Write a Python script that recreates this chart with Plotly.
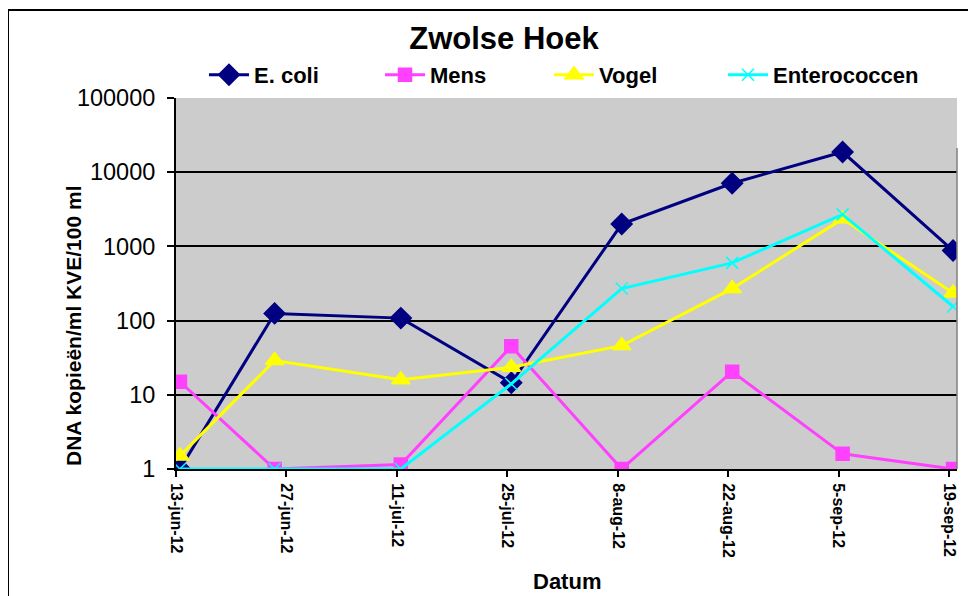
import plotly.graph_objects as go
import pandas as pd

# ---- data ----
dates = ["2012-06-13", "2012-06-25", "2012-07-11", "2012-07-25",
         "2012-08-08", "2012-08-22", "2012-09-05", "2012-09-19"]
ecoli = [1, 125, 108, 14.5, 2000, 7100, 18700, 880]
mens = [15, 1, 1.15, 45, 1, 20.5, 1.6, 1]
vogel = [1.5, 29, 16, 23.5, 46, 270, 2350, 235]
entero = [1, 1, 1, 14, 270, 600, 2700, 155]

tick_dates = ["2012-06-13", "2012-06-27", "2012-07-11", "2012-07-25",
              "2012-08-08", "2012-08-22", "2012-09-05", "2012-09-19"]
tick_labels = ["13-jun-12", "27-jun-12", "11-jul-12", "25-jul-12",
               "8-aug-12", "22-aug-12", "5-sep-12", "19-sep-12"]
y_ticks = [1, 10, 100, 1000, 10000, 100000]
y_labels = ["1", "10", "100", "1000", "10000", "100000"]

# points are centred on their day (Excel date axis)
x = pd.to_datetime(dates) + pd.Timedelta(hours=12)

FONT = "Liberation Sans, Arial, sans-serif"
OFF = 8  # page body margin

# plot area in window pixels: x 176..957, y 98..469
PL, PR, PT, PB = 176, 957, 98, 469
W, H = 976 - OFF, 596 - OFF
PW, PH = PR - PL, PB - PT


def px(xw):
    return (xw - PL) / PW


def py(yw):
    return (PB - yw) / PH


series = [
    ("E. coli", ecoli, "#000080", dict(symbol="diamond", size=16), "legend"),
    ("Mens", mens, "#FF40FF", dict(symbol="square", size=13), "legend2"),
    ("Vogel", vogel, "#FFFF00", dict(symbol="triangle-up", size=16), "legend3"),
    ("Enterococcen", entero, "#00FFFF", dict(symbol="x-thin", size=12), "legend4"),
]

fig = go.Figure()
for name, vals, col, mk, lg in series:
    fig.add_trace(go.Scatter(
        x=x, y=vals, name=name, mode="lines+markers", legend=lg,
        line=dict(color=col, width=3),
        marker=dict(color=col, line=dict(color=col, width=1.5), **mk)))

legend_style = dict(orientation="h", xanchor="left", yanchor="middle", y=py(75),
                    font=dict(size=22, family=FONT, weight="bold"),
                    bgcolor="rgba(0,0,0,0)", itemwidth=40)
legend_text_x = [252, 428, 597, 771]

fig.update_layout(
    width=W, height=H,
    margin=dict(l=PL - OFF, r=W - (PR - OFF), t=PT - OFF, b=H - (PB - OFF)),
    paper_bgcolor="white", plot_bgcolor="#CCCCCC",
    font=dict(family=FONT, color="black"),
    title=dict(text="<b>Zwolse Hoek</b>", x=(504 - OFF) / W, xanchor="center",
               y=1 - (38 - OFF) / H, yanchor="middle", font=dict(size=31, family=FONT)),
    legend=dict(x=px(legend_text_x[0] - 48), **legend_style),
    legend2=dict(x=px(legend_text_x[1] - 48), **legend_style),
    legend3=dict(x=px(legend_text_x[2] - 48), **legend_style),
    legend4=dict(x=px(legend_text_x[3] - 48), **legend_style),
    showlegend=True,
)

fig.update_xaxes(
    type="date", range=["2012-06-13", "2012-09-20"],
    tickvals=pd.to_datetime(tick_dates), ticktext=["<b>%s</b>" % t for t in tick_labels],
    tickangle=90, tickfont=dict(size=16, family=FONT),
    ticks="outside", ticklen=6, tickcolor="black", tickwidth=1.5,
    ticklabelstandoff=3,
    showline=True, linecolor="black", linewidth=2,
    showgrid=False, zeroline=False,
)
fig.update_yaxes(
    type="log", range=[0, 5],
    tickvals=y_ticks, ticktext=y_labels, tickfont=dict(size=23.5, family=FONT),
    ticks="outside", ticklen=7, tickcolor="black", tickwidth=1.5,
    ticklabelstandoff=7,
    showline=True, linecolor="black", linewidth=2,
    showgrid=True, gridcolor="black", gridwidth=1.5, zeroline=False,
)

# y-axis title and x-axis title as annotations
fig.add_annotation(text="<b>DNA kopieën/ml KVE/100 ml</b>", xref="paper", yref="paper",
                   x=px(73), y=py(326), textangle=-90, showarrow=False,
                   font=dict(size=21, family=FONT), xanchor="center", yanchor="middle")
fig.add_annotation(text="<b>Datum</b>", xref="paper", yref="paper",
                   x=px(567), y=py(581), showarrow=False,
                   font=dict(size=22, family=FONT), xanchor="center", yanchor="middle")

# chart border and right plot edge
fig.add_shape(type="rect", xref="paper", yref="paper",
              x0=px(8), x1=px(990), y0=py(610), y1=py(10),
              line=dict(color="black", width=2), fillcolor="rgba(0,0,0,0)", layer="above")
fig.add_shape(type="line", xref="paper", yref="paper",
              x0=1, x1=1, y0=0, y1=py(148),
              line=dict(color="#808080", width=1.5), layer="above")

fig.write_html("out.html")
